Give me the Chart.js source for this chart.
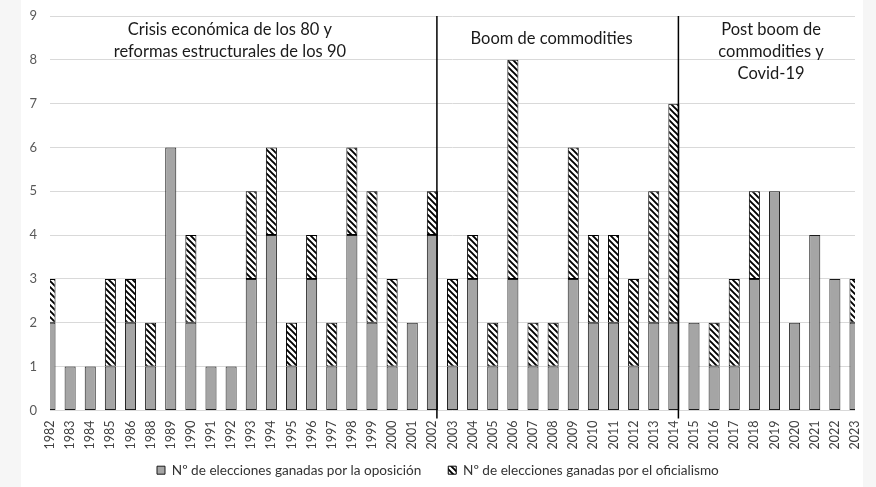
<!DOCTYPE html>
<html lang="es">
<head>
    <meta charset="UTF-8">
    <title>Elecciones ganadas por la oposición y el oficialismo</title>
    <script src="https://cdn.jsdelivr.net/npm/chart.js"></script>
    <style>
        body {
            margin: 0;
            width: 876px;
            height: 487px;
            background-color: #f6f6f6;
            overflow: hidden;
        }

        #panel {
            position: absolute;
            left: 21px;
            top: 0;
            width: 842px;
            height: 487px;
            background-color: #fff;
        }
    </style>
</head>
<body>

    <div id="panel"><canvas id="electionsChart" width="842" height="487"></canvas></div>

    <script>
        const years = ['1982', '1983', '1984', '1985', '1986', '1988', '1989', '1990', '1991', '1992',
            '1993', '1994', '1995', '1996', '1997', '1998', '1999', '2000', '2001', '2002',
            '2003', '2004', '2005', '2006', '2007', '2008', '2009', '2010', '2011', '2012',
            '2013', '2014', '2015', '2016', '2017', '2018', '2019', '2020', '2021', '2022', '2023'];

        // N° de elecciones ganadas por la oposición
        const opposition = [2, 1, 1, 1, 2, 1, 6, 2, 1, 1,
            3, 4, 1, 3, 1, 4, 2, 1, 2, 4,
            1, 3, 1, 3, 1, 1, 3, 2, 2, 1,
            2, 2, 2, 1, 1, 3, 5, 2, 4, 3, 2];

        // N° de elecciones ganadas por el oficialismo
        const officialism = [1, 0, 0, 2, 1, 1, 0, 2, 0, 0,
            2, 2, 1, 1, 1, 2, 3, 2, 0, 1,
            2, 1, 1, 5, 1, 1, 3, 2, 2, 2,
            3, 5, 0, 1, 2, 2, 0, 0, 0, 0, 1];

        const seriesNames = ['Nº de elecciones ganadas por la oposición', 'Nº de elecciones ganadas por el oficialismo'];

        // periods and where they end
        const periodBreaks = ['2002', '2014'];
        const periodTitles = [
            ['Crisis económica de los 80 y', 'reformas estructurales de los 90'],
            ['Boom de commodities'],
            ['Post boom de', 'commodities y', 'Covid-19']
        ];
        // title anchors in axis units (category index, value)
        const titleAnchors = [[8.94, 8.69], [24.92, 8.49], [35.83, 8.69]];

        const FONT = 'Lato, "Noto Sans", sans-serif';

        function hatchPattern() {
            const s = 6;
            const c = document.createElement('canvas');
            c.width = s;
            c.height = s;
            const g = c.getContext('2d');
            g.fillStyle = '#fff';
            g.fillRect(0, 0, s, s);
            g.strokeStyle = '#000';
            g.lineWidth = 1.9;
            g.beginPath();
            for (let k = -1; k <= 1; k++) {
                g.moveTo(k * s - 1, -1);
                g.lineTo(k * s + s + 1, s + 1);
            }
            g.stroke();
            return g.createPattern(c, 'repeat');
        }

        const periodPlugin = {
            id: 'periods',
            afterLayout(chart) {
                // legend sits left of centre in the original
                chart.legend.left = 126;
            },
            afterDatasetsDraw(chart) {
                const { ctx, scales: { x, y } } = chart;
                const bars = chart.getDatasetMeta(0).data;
                ctx.save();
                ctx.strokeStyle = '#000';
                ctx.lineWidth = 1.5;
                periodBreaks.forEach(yr => {
                    const i = years.indexOf(yr);
                    const px = bars[i].x + bars[i].width / 2 - 1;
                    ctx.beginPath();
                    ctx.moveTo(px, y.getPixelForValue(9));
                    ctx.lineTo(px, y.getPixelForValue(0) + 8);
                    ctx.stroke();
                });
                ctx.fillStyle = '#1a1a1a';
                ctx.font = '16.5px ' + FONT;
                ctx.textAlign = 'center';
                ctx.textBaseline = 'middle';
                periodTitles.forEach((lines, k) => {
                    const cx = x.getPixelForValue(titleAnchors[k][0]);
                    const cy = y.getPixelForValue(titleAnchors[k][1]);
                    lines.forEach((t, j) => ctx.fillText(t, cx, cy + j * 22));
                });
                ctx.restore();
            }
        };

        const ctx = document.getElementById('electionsChart').getContext('2d');
        const chart = new Chart(ctx, {
            type: 'bar',
            data: {
                labels: years,
                datasets: [
                    {
                        label: seriesNames[0],
                        data: opposition,
                        backgroundColor: '#a5a5a5',
                        borderColor: '#1a1a1a',
                        borderWidth: 1,
                        borderSkipped: false,
                        clip: { left: 0, right: 0, top: 10, bottom: 2 }
                    },
                    {
                        label: seriesNames[1],
                        data: officialism,
                        backgroundColor: hatchPattern(),
                        borderColor: '#000',
                        borderWidth: 1,
                        borderSkipped: false,
                        clip: { left: 0, right: 0, top: 10, bottom: 2 }
                    }
                ]
            },
            options: {
                responsive: false,
                animation: false,
                layout: { padding: { top: 16, right: 8, bottom: 0, left: 0 } },
                datasets: { bar: { categoryPercentage: 1, barPercentage: 0.55 } },
                scales: {
                    x: {
                        stacked: true,
                        offset: false,
                        grid: { display: false, drawTicks: false },
                        border: { display: false },
                        ticks: {
                            autoSkip: false,
                            maxRotation: 90,
                            minRotation: 90,
                            padding: 10,
                            color: '#404040',
                            font: { family: FONT, size: 12.5 }
                        },
                        afterFit: s => {
                            s.height = 43;
                            s.paddingLeft = 0;
                            s.paddingRight = 0;
                        }
                    },
                    y: {
                        stacked: true,
                        min: 0,
                        max: 9,
                        grid: { color: '#d9d9d9', drawTicks: false },
                        border: { display: false },
                        ticks: {
                            stepSize: 1,
                            padding: 13,
                            color: '#595959',
                            font: { family: FONT, size: 13 }
                        },
                        afterFit: s => {
                            s.width = 29;
                            s.paddingTop = 0;
                            s.paddingBottom = 0;
                        }
                    }
                },
                plugins: {
                    legend: {
                        position: 'bottom',
                        align: 'start',
                        labels: {
                            boxWidth: 8,
                            boxHeight: 8,
                            padding: 10,
                            color: '#333',
                            font: { family: FONT, size: 13.6 },
                            generateLabels: c => {
                                const items = Chart.defaults.plugins.legend.labels.generateLabels(c);
                                // wider gap between the two entries, as in the original
                                items[0].text += '\u2003\u2002';
                                return items;
                            }
                        }
                    },
                    tooltip: { enabled: false }
                }
            },
            plugins: [periodPlugin]
        });
    </script>

</body>
</html>
